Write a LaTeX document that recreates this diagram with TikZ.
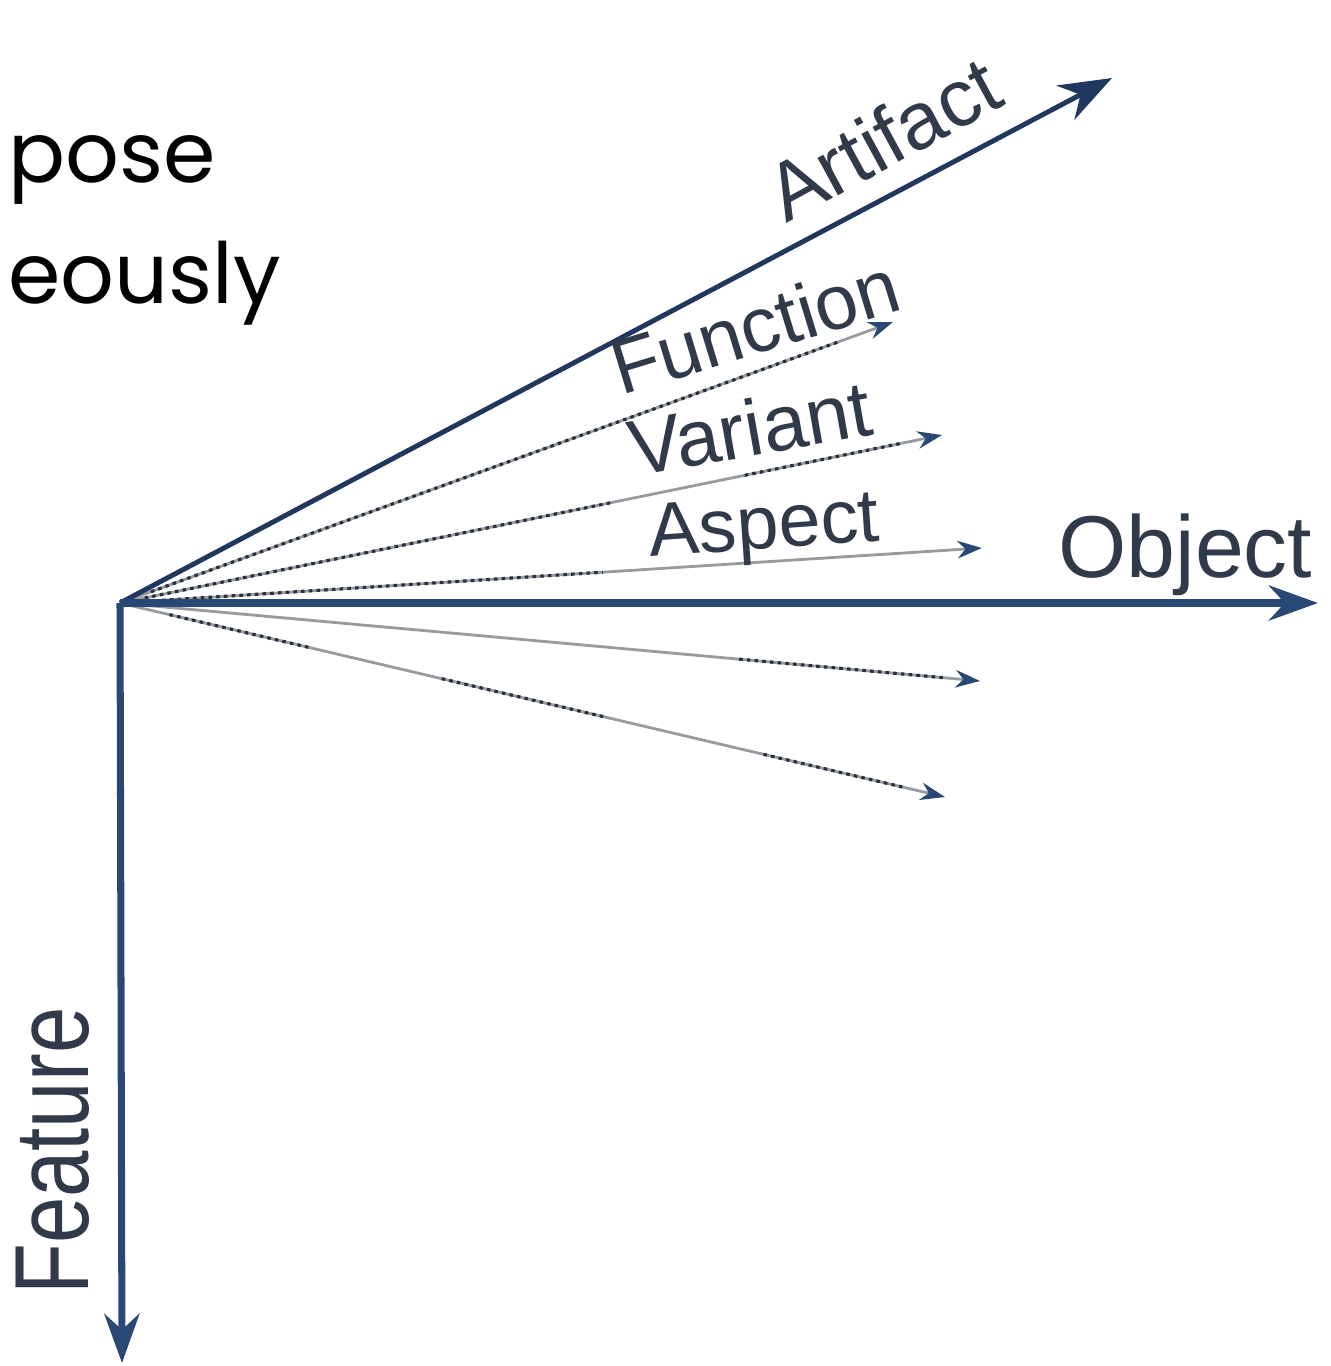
\documentclass[tikz,border=0pt]{standalone}
\usepackage{fontspec}
\setmainfont{Liberation Sans}
\newfontfamily\handfont{Poppins}
\usetikzlibrary{arrows.meta,calc}
\definecolor{axisblue}{RGB}{42,72,116}
\definecolor{darkaxis}{RGB}{32,56,96}
\definecolor{labelc}{RGB}{48,58,74}
\definecolor{dotc}{RGB}{40,46,58}
\definecolor{linegray}{RGB}{150,155,160}
\tikzset{
  mainaxis/.style={draw=axisblue, line width=4pt, -{Stealth[length=28pt,width=20pt,color=axisblue]}},
  artaxis/.style={draw=darkaxis, line width=2.8pt, -{Stealth[length=30pt,width=22pt,color=darkaxis]}},
  secline/.style={draw=linegray, line width=1.6pt, -{Stealth[length=14pt,width=10pt,color=axisblue]}},
  dotseg/.style={draw=dotc, line width=1.8pt, dash pattern=on 2pt off 2.4pt},
  axlabel/.style={text=labelc, inner sep=0pt, anchor=base west},
  handtext/.style={text=black, inner sep=0pt, anchor=base west, font=\handfont\fontsize{48pt}{56pt}\selectfont}
}
\begin{document}
\begin{tikzpicture}[x=0.02cm,y=-0.02cm]
\useasboundingbox (0,0) rectangle (1330,1366);
% slide text fragment
\node[handtext] (t1) at (8,182) {pose};
\node[handtext] (t2) at (8,303) {eously};
% coordinates
\coordinate (O) at (120,603);
\coordinate (objE) at (1318,603);
\coordinate (feaE) at (122,1363);
\coordinate (artE) at (1112,78);
\coordinate (funE) at (893,322);
\coordinate (varE) at (942,435);
\coordinate (aspE) at (982,548);
\coordinate (l1E) at (980,681);
\coordinate (l2E) at (945,797);
% secondary lines (gray base)
\draw[secline] (O) -- (funE);
\draw[secline] (O) -- (varE);
\draw[secline] (O) -- (aspE);
\draw[secline] (O) -- (l1E);
\draw[secline] (O) -- (l2E);
% dotted overlays
\draw[dotseg] ($(O)!0.04!(funE)$) -- ($(O)!0.93!(funE)$);
\draw[dotseg] ($(O)!0.03!(varE)$) -- ($(O)!0.6!(varE)$);
\draw[dotseg] ($(O)!0.76!(varE)$) -- ($(O)!0.95!(varE)$);
\draw[dotseg] ($(O)!0.04!(aspE)$) -- ($(O)!0.56!(aspE)$);
\draw[dotseg] ($(O)!0.72!(l1E)$) -- ($(O)!0.96!(l1E)$);
\draw[dotseg] ($(O)!0.06!(l2E)$) -- ($(O)!0.23!(l2E)$);
\draw[dotseg] ($(O)!0.39!(l2E)$) -- ($(O)!0.59!(l2E)$);
\draw[dotseg] ($(O)!0.78!(l2E)$) -- ($(O)!0.95!(l2E)$);
% main axes
\draw[artaxis] (O) -- (artE);
\draw[mainaxis] (O) -- (objE);
\draw[mainaxis] (O) -- (feaE);
% labels
\node[axlabel, font=\fontsize{50pt}{60pt}\selectfont] (lobj) at (1058,577) {Object};
\node[axlabel, rotate=90, font=\fontsize{60pt}{70pt}\selectfont] (lfea) at (88,1295) {\scalebox{0.79}[1]{Feature}};
\node[axlabel, rotate=28.5, font=\fontsize{46pt}{56pt}\selectfont] (lart) at (786,224) {Artifact};
\node[axlabel, rotate=17, font=\fontsize{44pt}{54pt}\selectfont] (lfun) at (621,396) {Function};
\node[axlabel, rotate=10, font=\fontsize{45pt}{55pt}\selectfont] (lvar) at (634,477) {Variant};
\node[axlabel, rotate=4, font=\fontsize{43pt}{53pt}\selectfont] (lasp) at (650,557) {Aspect};
\end{tikzpicture}
\end{document}
